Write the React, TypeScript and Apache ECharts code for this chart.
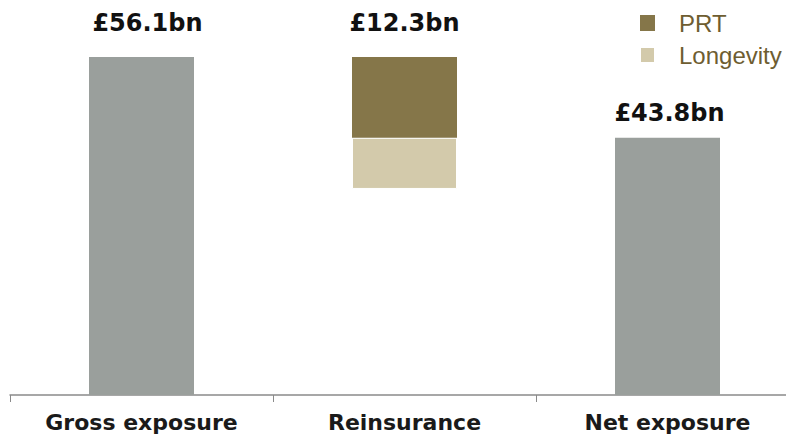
import React, { useEffect, useRef } from "react";
import * as echarts from "echarts";

const categories = ["Gross exposure", "Reinsurance", "Net exposure"];
// Headline figures printed above bars (£bn)
const labelValues = [56.1, 12.3, 43.8];
// Bar geometry as drawn (illustrative, £bn scale)
const baseValues = [0, 34.2, 0];
const totalValues: (number | string)[] = [56.1, "-", 42.7];
const longevityValues: (number | string)[] = ["-", 8.5, "-"];
const prtValues: (number | string)[] = ["-", 13.4, "-"];
const labelDistances = [22, 22, 13];
const labelOffsetsX = [6, 0, 2];

export default function App() {
  const ref = useRef<HTMLDivElement>(null);
  useEffect(() => {
    document.body.style.margin = "0";
    const chart = echarts.init(ref.current!, null, { renderer: "svg" });
    const valueLabel = (idx: number) => ({
      show: true,
      position: "top",
      distance: labelDistances[idx],
      offset: [labelOffsetsX[idx], 0],
      formatter: () => `£${labelValues[idx].toFixed(1)}bn`,
      fontFamily: "DejaVu Sans",
      fontWeight: "bold",
      fontSize: 24,
      color: "#111",
    });
    chart.setOption({
      animation: false,
      backgroundColor: "#fff",
      grid: { left: 10, right: 1, top: 57, bottom: 40 },
      legend: {
        orient: "vertical",
        left: 639,
        top: 11,
        padding: 0,
        itemWidth: 15,
        itemHeight: 16,
        itemGap: 8,
        icon: "rect",
        data: ["PRT", "Longevity"],
        textStyle: {
          fontFamily: "Liberation Sans",
          fontSize: 24,
          lineHeight: 16,
          color: "#6e5d31",
          padding: [0, 0, 0, 19],
        },
      },
      xAxis: {
        type: "category",
        data: categories,
        axisLine: { lineStyle: { color: "#8a8a8a", width: 1.5 } },
        axisTick: { show: true, length: 7, lineStyle: { color: "#8a8a8a" } },
        axisLabel: {
          fontFamily: "DejaVu Sans",
          fontWeight: "bold",
          fontSize: 22,
          color: "#1a1a1a",
          margin: 16,
        },
      },
      yAxis: { type: "value", min: 0, max: 56.1, show: false },
      series: [
        {
          name: "base",
          type: "bar",
          stack: "w",
          barWidth: 105,
          itemStyle: { color: "transparent" },
          data: baseValues,
          silent: true,
        },
        {
          name: "Total",
          type: "bar",
          stack: "w",
          barWidth: 105,
          itemStyle: { color: "#9a9f9c" },
          data: totalValues.map((v, i) =>
            v === "-" ? "-" : { value: v, label: valueLabel(i) }
          ),
        },
        {
          name: "Longevity",
          type: "bar",
          stack: "w",
          barWidth: 105,
          itemStyle: { color: "#d3caab", borderColor: "#fff", borderWidth: 1 },
          data: longevityValues,
        },
        {
          name: "PRT",
          type: "bar",
          stack: "w",
          barWidth: 105,
          itemStyle: { color: "#857649" },
          data: prtValues.map((v, i) =>
            v === "-" ? "-" : { value: v, label: valueLabel(i) }
          ),
        },
      ],
    });
    return () => chart.dispose();
  }, []);
  return (
    <div style={{ width: 786, height: 435, overflow: "hidden", position: "relative" }}>
      <div ref={ref} style={{ width: 800, height: 435 }} />
    </div>
  );
}
